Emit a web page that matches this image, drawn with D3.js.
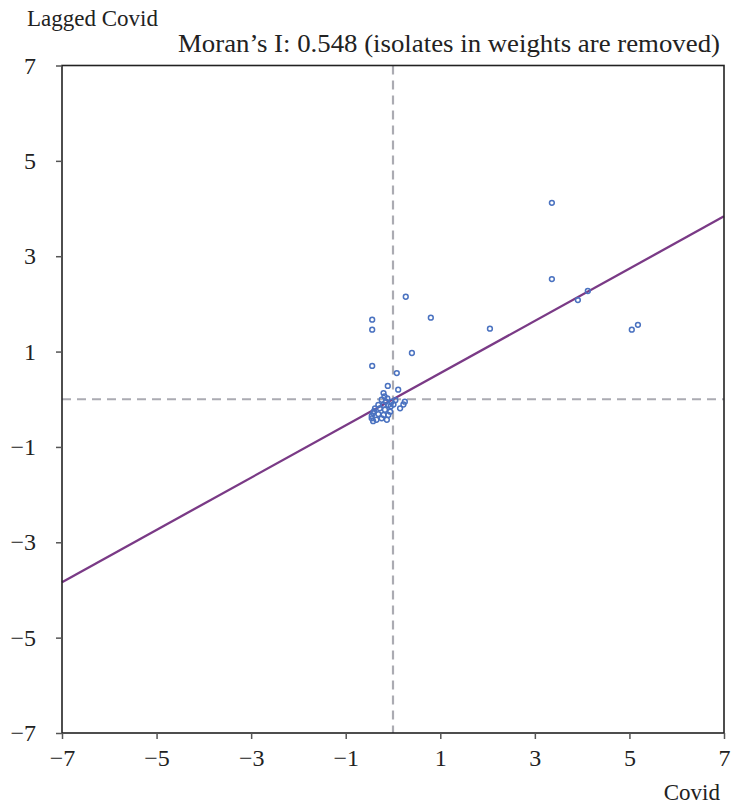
<!DOCTYPE html>
<html><head><meta charset="utf-8">
<script src="https://cdn.jsdelivr.net/npm/d3@7"></script>
<style>body{margin:0;background:#fff}svg{display:block}text{font-family:"Liberation Serif",serif;fill:#222}</style>
</head><body>
<svg id="c" width="734" height="807"></svg>
<script>
const xTicks = [-7,-5,-3,-1,1,3,5,7];
const yTicks = [-7,-5,-3,-1,1,3,5,7];
const moransI = 0.548;
const titleText = "Moran\u2019s I: 0.548 (isolates in weights are removed)";
const xLabel = "Covid";
const yLabel = "Lagged Covid";
const covid = [3.36,3.36,3.91,4.12,5.05,5.18,2.05,0.80,0.27,0.40,-0.44,-0.44,-0.44,0.08,-0.11,0.11,
 -0.20,-0.18,-0.24,-0.15,-0.03,0.01,-0.10,-0.20,-0.31,-0.38,-0.28,-0.17,-0.06,-0.42,-0.31,-0.20,-0.10,-0.45,-0.35,-0.24,-0.13,-0.42,0.15,0.22,0.25,-0.40,-0.45,-0.05,-0.12,0.05];
const lagged = [4.12,2.52,2.08,2.27,1.46,1.56,1.48,1.71,2.15,0.97,1.67,1.46,0.70,0.55,0.28,0.20,
 0.13,0.06,-0.01,-0.05,-0.05,-0.11,-0.12,-0.12,-0.12,-0.19,-0.19,-0.22,-0.26,-0.29,-0.31,-0.33,-0.33,-0.40,-0.43,-0.40,-0.43,-0.46,-0.19,-0.11,-0.05,-0.25,-0.35,-0.15,0.02,-0.02];

const svg = d3.select("#c");
const L=62,R=724,T=65.5,B=733;
const x = d3.scaleLinear().domain([-7,7]).range([L,R]);
const y = d3.scaleLinear().domain([-7,7]).range([B,T]);
const fmt = d => d<0 ? "\u2212"+Math.abs(d) : String(d);

// dashed zero lines
svg.append("line").attr("x1",x(0)).attr("x2",x(0)).attr("y1",T).attr("y2",B)
  .attr("stroke","#ababb2").attr("stroke-width",2.2).attr("stroke-dasharray","9,6");
svg.append("line").attr("x1",L).attr("x2",R).attr("y1",y(0)).attr("y2",y(0))
  .attr("stroke","#ababb2").attr("stroke-width",2.2).attr("stroke-dasharray","9,6");

// regression line
svg.append("line").attr("x1",x(-7)).attr("y1",y(-7*moransI)).attr("x2",x(7)).attr("y2",y(7*moransI))
  .attr("stroke","#7a3a86").attr("stroke-width",2.3);

// points
svg.append("g").selectAll("circle").data(covid.map((c,i)=>[c,lagged[i]])).join("circle")
  .attr("cx",d=>x(d[0])).attr("cy",d=>y(d[1])).attr("r",2.4)
  .attr("fill","none").attr("stroke","#4a72c0").attr("stroke-width",1.5);

// frame
svg.append("rect").attr("x",L).attr("y",T).attr("width",R-L).attr("height",B-T)
  .attr("fill","none").attr("stroke","#222").attr("stroke-width",1.6);

// axes
const xa = svg.append("g").attr("transform",`translate(0,${B})`)
  .call(d3.axisBottom(x).tickValues(xTicks).tickFormat(fmt).tickSize(6).tickPadding(10));
const ya = svg.append("g").attr("transform",`translate(${L},0)`)
  .call(d3.axisLeft(y).tickValues(yTicks).tickFormat(fmt).tickSize(6).tickPadding(20));
[xa,ya].forEach(a=>{
  a.select(".domain").remove();
  a.selectAll("line").attr("stroke","#555").attr("stroke-width",1.5);
  a.selectAll("text").style("font-family","Liberation Serif, serif").style("font-size","24px").attr("fill","#222");
});

svg.append("text").attr("x",27).attr("y",26).style("font-size","23px").text(yLabel);
svg.append("text").attr("x",720).attr("y",52).attr("text-anchor","end").style("font-size","25px")
  .attr("textLength",542).attr("lengthAdjust","spacingAndGlyphs").text(titleText);
svg.append("text").attr("x",720).attr("y",800).attr("text-anchor","end").style("font-size","23px").text(xLabel);
</script>
</body></html>
